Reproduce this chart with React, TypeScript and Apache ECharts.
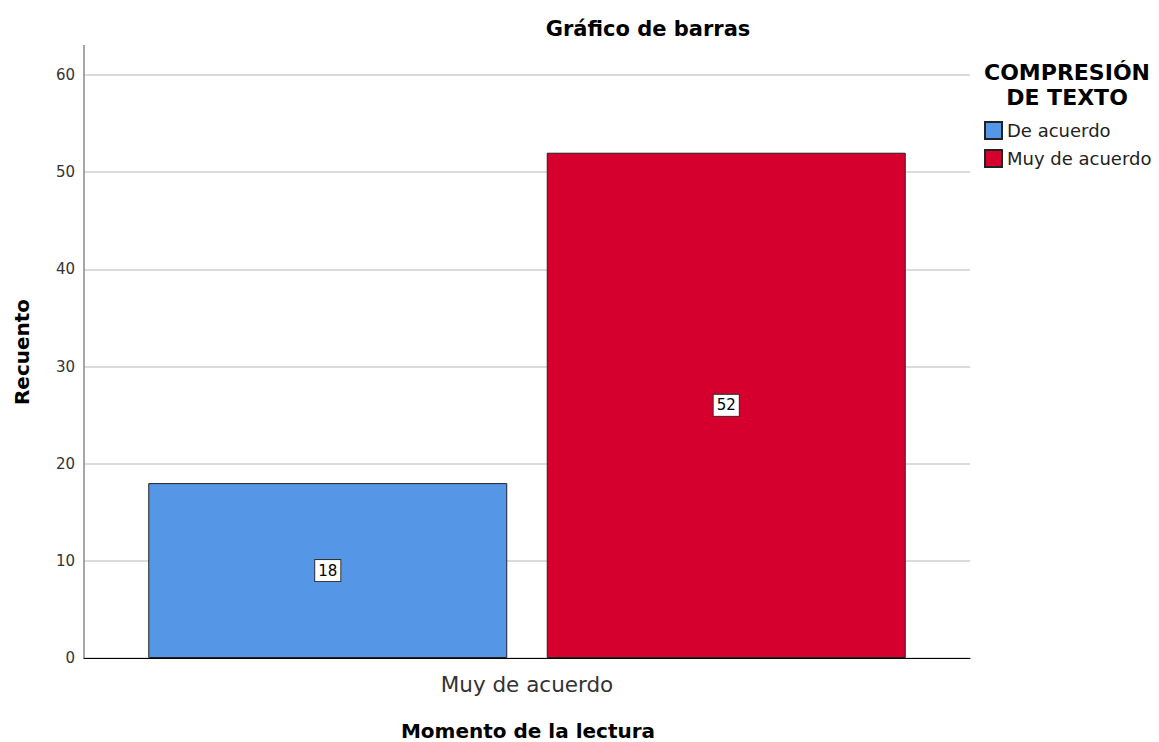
import React, { useEffect, useRef } from "react";
import * as echarts from "echarts";

const categories = ["Muy de acuerdo"];
const seriesNames = ["De acuerdo", "Muy de acuerdo"];
const seriesValues = [[18], [52]];
const seriesColors = ["#5596e6", "#d5002e"];
const yTicks = { min: 0, max: 60, interval: 10 };

export default function App() {
  const ref = useRef<HTMLDivElement>(null);
  useEffect(() => {
    document.body.style.margin = "0";
    const chart = echarts.init(ref.current!, null, { renderer: "svg" });
    const font = "'DejaVu Sans', sans-serif";
    chart.setOption({
      animation: false,
      textStyle: { fontFamily: font },
      title: [
        {
          text: "Gráfico de barras",
          left: 643,
          top: 13,
          textAlign: "center",
          textStyle: { fontSize: 21, fontWeight: "bold", color: "#000", fontFamily: font },
        },
        {
          text: "COMPRESIÓN\nDE TEXTO",
          left: 1062,
          top: 55,
          textAlign: "center",
          textStyle: { fontSize: 22, fontWeight: "bold", color: "#000", lineHeight: 25, fontFamily: font },
        },
      ],
      legend: {
        orient: "vertical",
        left: 979,
        top: 116,
        itemWidth: 17,
        itemHeight: 17,
        itemGap: 9,
        icon: "rect",
        textStyle: { fontSize: 18, color: "#222", padding: [0, 0, 0, 0], fontFamily: font },
        data: seriesNames,
      },
      grid: { left: 84, right: 189, top: 75, bottom: 84 },
      xAxis: {
        type: "category",
        data: categories,
        axisLine: { lineStyle: { color: "#000", width: 1 } },
        axisTick: { show: false },
        axisLabel: { fontSize: 21.5, color: "#333", margin: 15, fontFamily: font },
      },
      yAxis: {
        type: "value",
        min: yTicks.min,
        max: yTicks.max,
        interval: yTicks.interval,
        axisLine: { show: true, lineStyle: { color: "#888", width: 1.5 } },
        axisTick: { show: false },
        axisLabel: { fontSize: 15, color: "#333", margin: 9, fontFamily: font },
        splitLine: { lineStyle: { color: "#cfcfcf", width: 1.5 } },
      },
      series: seriesNames.map((name, i) => ({
        name,
        type: "bar",
        data: seriesValues[i],
        barWidth: 359,
        barGap: "11%",
        itemStyle: { color: seriesColors[i], borderColor: "#222", borderWidth: 1 },
        label: {
          show: true,
          position: "inside",
          fontSize: 15,
          color: "#000",
          backgroundColor: "#fff",
          borderColor: "#333",
          borderWidth: 1,
          padding: [4, 3, 2, 3],
          fontFamily: font,
        },
      })),
      graphic: [
        {
          type: "line",
          shape: { x1: 84, y1: 45, x2: 84, y2: 75 },
          style: { stroke: "#888", lineWidth: 1.5 },
        },
        {
          type: "text",
          x: 22,
          y: 352,
          rotation: Math.PI / 2,
          style: {
            text: "Recuento",
            fontSize: 20,
            fontWeight: "bold",
            fill: "#000",
            fontFamily: font,
            textAlign: "center",
            textVerticalAlign: "middle",
          },
        },
        {
          type: "text",
          x: 528,
          y: 731,
          style: {
            text: "Momento de la lectura",
            fontSize: 20,
            fontWeight: "bold",
            fill: "#000",
            fontFamily: font,
            textAlign: "center",
            textVerticalAlign: "middle",
          },
        },
      ],
    });
    return () => chart.dispose();
  }, []);
  return <div ref={ref} style={{ width: 1159, height: 742 }} />;
}
